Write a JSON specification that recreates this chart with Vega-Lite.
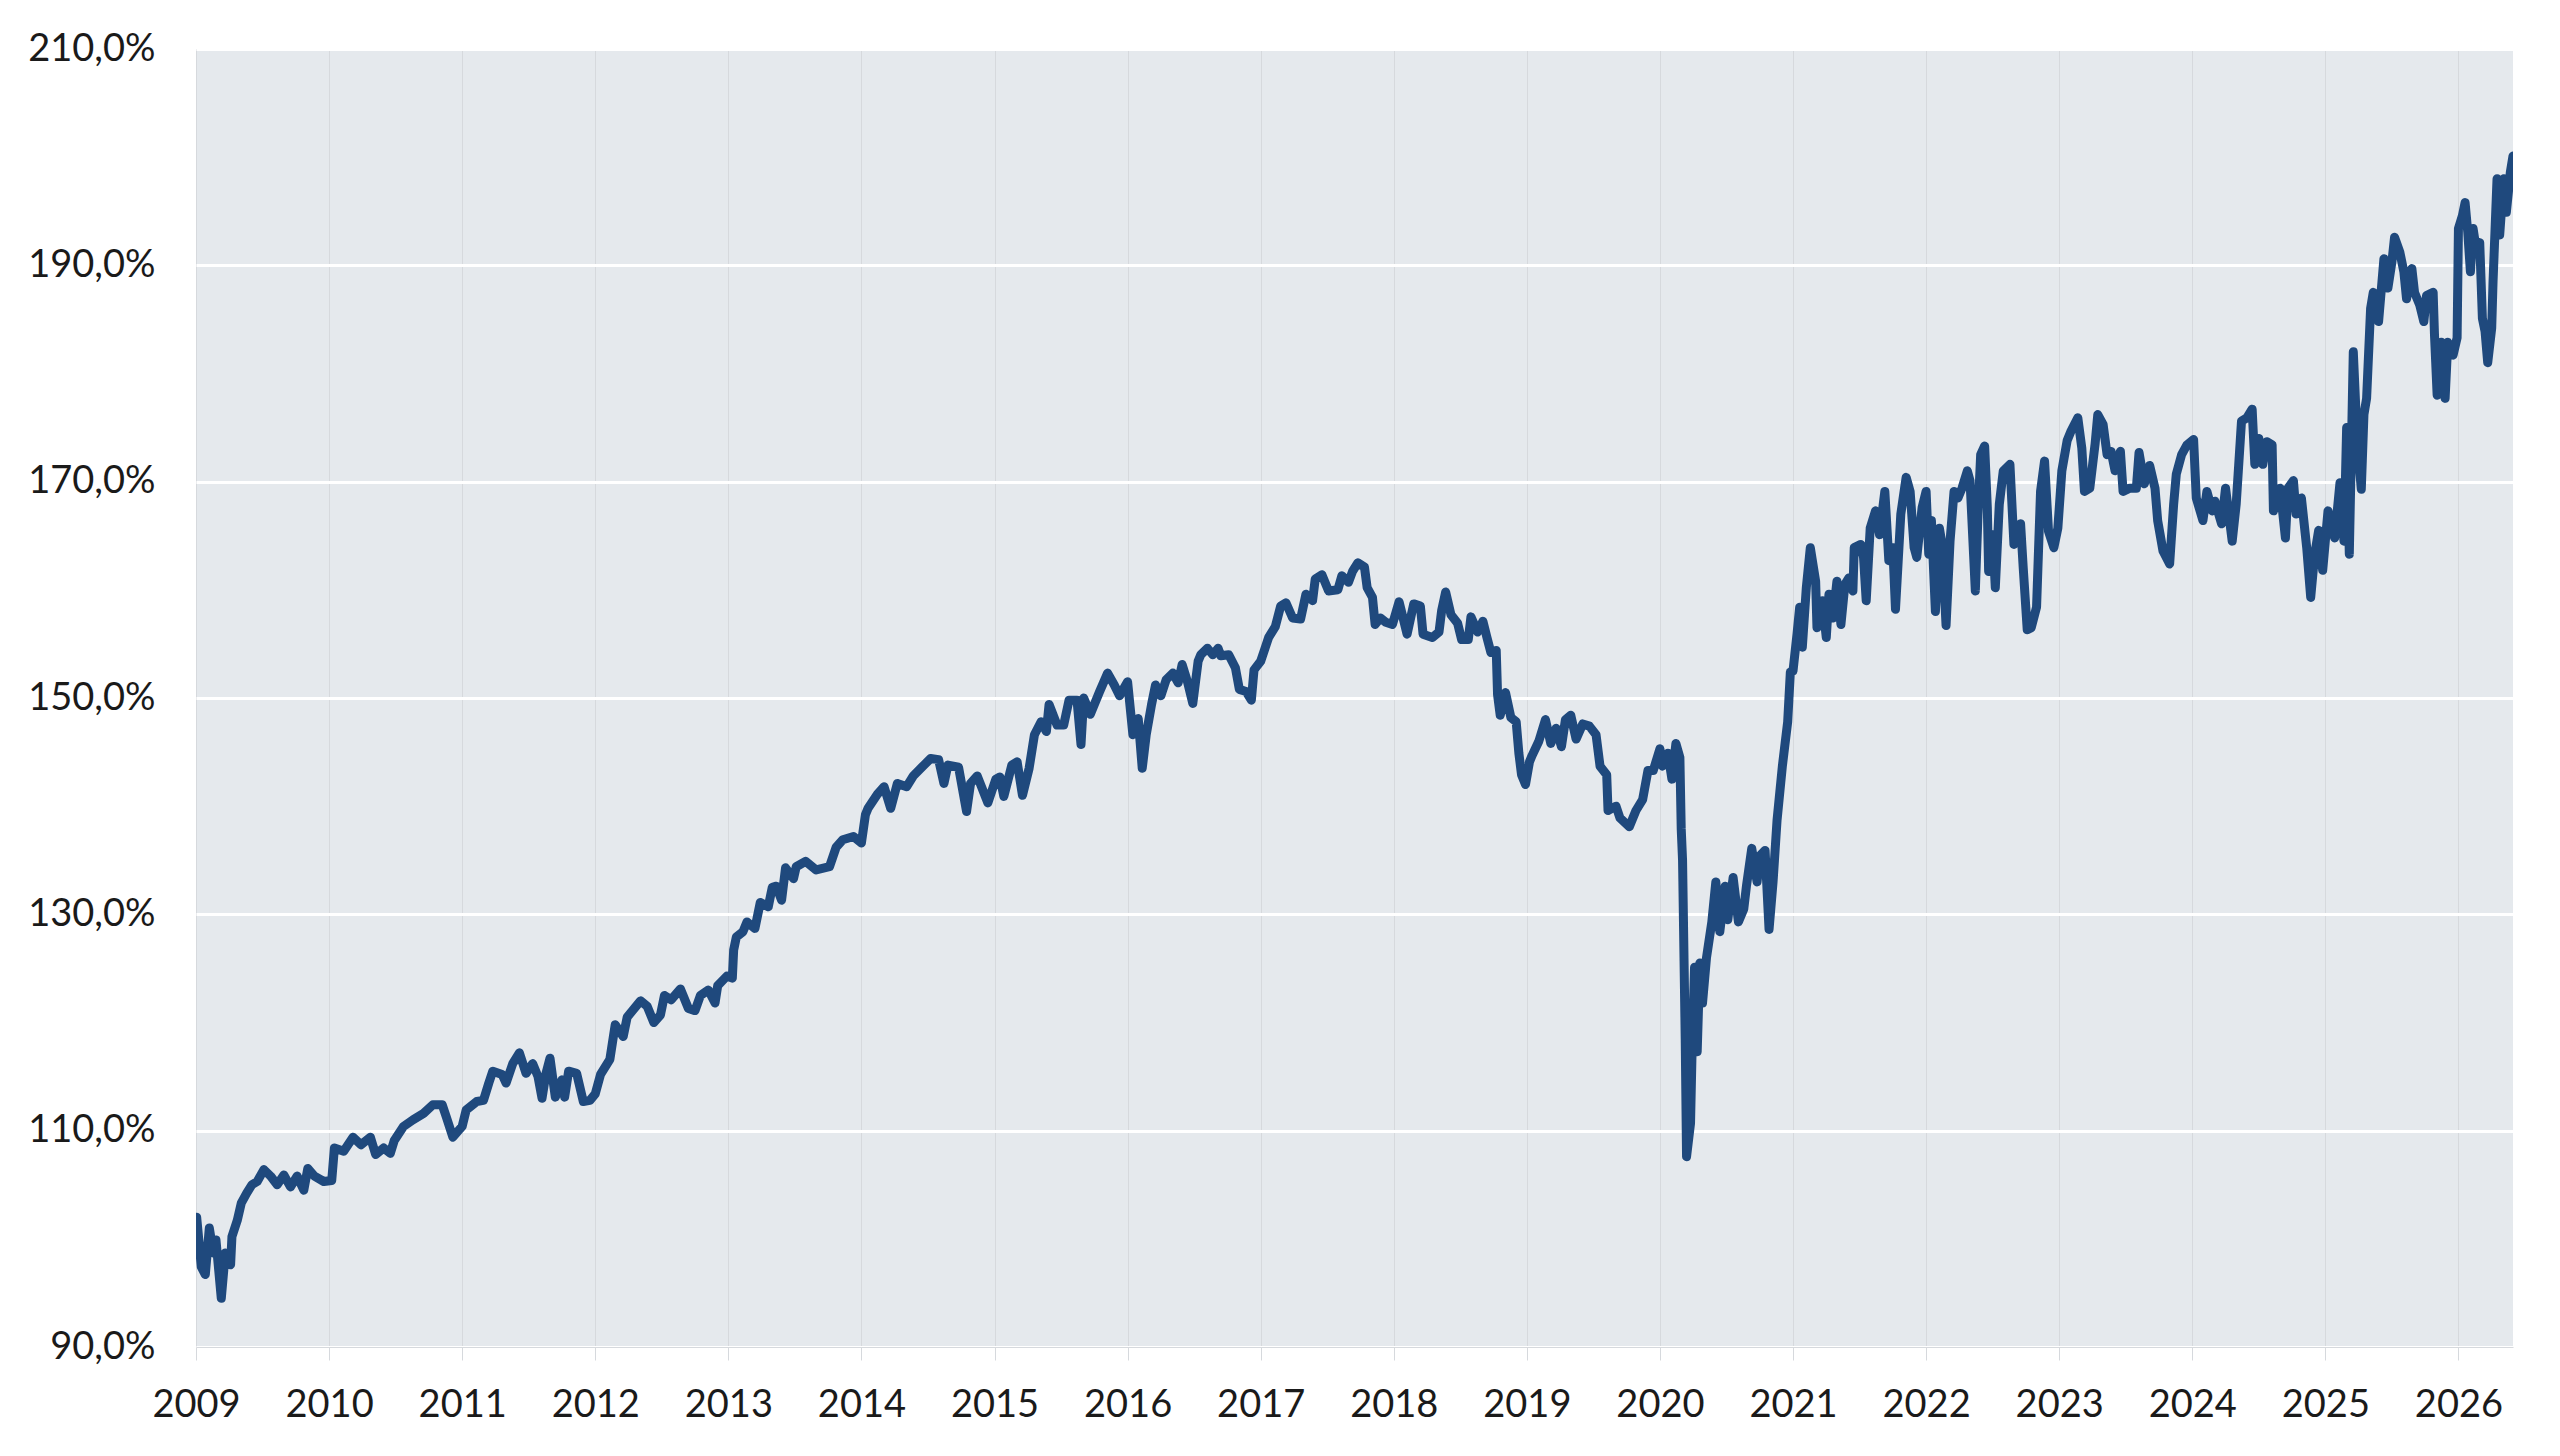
{
  "$schema": "https://vega.github.io/schema/vega-lite/v6.json",
  "width": 2317,
  "height": 1298,
  "autosize": {"type": "none"},
  "padding": {"left": 196, "top": 49, "right": 47, "bottom": 109},
  "background": "#ffffff",
  "config": {
    "view": {"fill": "#e5e9ed", "stroke": null},
    "font": "Lato"
  },
  "data": {
    "values": [
      {"t":2009.005,"v":102.0},{"t":2009.04,"v":97.4},{"t":2009.07,"v":96.7},{"t":2009.10,"v":101.0},{"t":2009.13,"v":98.7},{"t":2009.15,"v":99.9},{"t":2009.19,"v":94.5},{"t":2009.22,"v":98.7},{"t":2009.26,"v":97.6},{"t":2009.27,"v":100.2},{"t":2009.31,"v":101.7},{"t":2009.34,"v":103.3},{"t":2009.38,"v":104.2},{"t":2009.42,"v":105.0},{"t":2009.46,"v":105.3},{"t":2009.51,"v":106.4},{"t":2009.56,"v":105.8},{"t":2009.61,"v":105.0},{"t":2009.66,"v":105.9},{"t":2009.71,"v":104.8},{"t":2009.76,"v":105.8},{"t":2009.81,"v":104.5},{"t":2009.84,"v":106.5},{"t":2009.89,"v":105.8},{"t":2009.96,"v":105.3},
      {"t":2010.02,"v":105.4},{"t":2010.04,"v":108.4},{"t":2010.11,"v":108.1},{"t":2010.18,"v":109.4},{"t":2010.24,"v":108.7},{"t":2010.31,"v":109.4},{"t":2010.35,"v":107.8},{"t":2010.41,"v":108.4},{"t":2010.46,"v":107.9},{"t":2010.49,"v":109.1},{"t":2010.56,"v":110.4},{"t":2010.63,"v":111.0},{"t":2010.71,"v":111.6},{"t":2010.78,"v":112.4},{"t":2010.85,"v":112.4},{"t":2010.88,"v":111.3},{"t":2010.93,"v":109.4},
      {"t":2011.00,"v":110.4},{"t":2011.03,"v":111.9},{"t":2011.11,"v":112.7},{"t":2011.16,"v":112.8},{"t":2011.20,"v":114.4},{"t":2011.23,"v":115.5},{"t":2011.30,"v":115.2},{"t":2011.33,"v":114.4},{"t":2011.38,"v":116.2},{"t":2011.43,"v":117.2},{"t":2011.48,"v":115.3},{"t":2011.53,"v":116.2},{"t":2011.57,"v":115.0},{"t":2011.60,"v":113.0},{"t":2011.63,"v":115.3},{"t":2011.66,"v":116.7},{"t":2011.70,"v":113.1},{"t":2011.75,"v":114.7},{"t":2011.77,"v":113.1},{"t":2011.80,"v":115.5},{"t":2011.86,"v":115.3},{"t":2011.91,"v":112.7},{"t":2011.96,"v":112.8},
      {"t":2012.00,"v":113.4},{"t":2012.04,"v":115.2},{"t":2012.11,"v":116.6},{"t":2012.15,"v":119.8},{"t":2012.21,"v":118.7},{"t":2012.24,"v":120.5},{"t":2012.34,"v":122.0},{"t":2012.39,"v":121.5},{"t":2012.44,"v":120.0},{"t":2012.49,"v":120.7},{"t":2012.52,"v":122.5},{"t":2012.57,"v":122.1},{"t":2012.64,"v":123.1},{"t":2012.70,"v":121.3},{"t":2012.75,"v":121.1},{"t":2012.79,"v":122.5},{"t":2012.85,"v":123.0},{"t":2012.90,"v":121.8},{"t":2012.92,"v":123.4},{"t":2012.99,"v":124.3},
      {"t":2013.03,"v":124.1},{"t":2013.04,"v":126.7},{"t":2013.06,"v":127.9},{"t":2013.11,"v":128.4},{"t":2013.14,"v":129.3},{"t":2013.20,"v":128.7},{"t":2013.24,"v":131.1},{"t":2013.30,"v":130.7},{"t":2013.33,"v":132.5},{"t":2013.36,"v":132.6},{"t":2013.40,"v":131.3},{"t":2013.43,"v":134.3},{"t":2013.49,"v":133.3},{"t":2013.51,"v":134.4},{"t":2013.58,"v":134.9},{"t":2013.66,"v":134.1},{"t":2013.76,"v":134.4},{"t":2013.81,"v":136.2},{"t":2013.86,"v":136.9},{"t":2013.94,"v":137.2},
      {"t":2014.00,"v":136.6},{"t":2014.03,"v":139.2},{"t":2014.05,"v":139.8},{"t":2014.12,"v":141.1},{"t":2014.17,"v":141.8},{"t":2014.22,"v":139.8},{"t":2014.27,"v":142.1},{"t":2014.34,"v":141.8},{"t":2014.39,"v":142.8},{"t":2014.47,"v":143.8},{"t":2014.52,"v":144.4},{"t":2014.58,"v":144.3},{"t":2014.62,"v":142.1},{"t":2014.65,"v":143.8},{"t":2014.73,"v":143.6},{"t":2014.79,"v":139.5},{"t":2014.82,"v":142.1},{"t":2014.87,"v":142.8},{"t":2014.95,"v":140.3},{"t":2015.01,"v":142.5},
      {"t":2015.04,"v":142.7},{"t":2015.07,"v":140.9},{"t":2015.13,"v":143.8},{"t":2015.17,"v":144.1},{"t":2015.21,"v":141.0},{"t":2015.26,"v":143.5},{"t":2015.30,"v":146.6},{"t":2015.35,"v":147.8},{"t":2015.39,"v":146.9},{"t":2015.41,"v":149.4},{"t":2015.47,"v":147.5},{"t":2015.52,"v":147.5},{"t":2015.56,"v":149.8},{"t":2015.62,"v":149.8},{"t":2015.65,"v":145.7},{"t":2015.67,"v":150.0},{"t":2015.72,"v":148.5},{"t":2015.79,"v":150.6},{"t":2015.85,"v":152.3},{"t":2015.90,"v":151.2},{"t":2015.94,"v":150.2},
      {"t":2016.00,"v":151.5},{"t":2016.04,"v":146.6},{"t":2016.08,"v":148.1},{"t":2016.11,"v":143.5},{"t":2016.14,"v":146.6},{"t":2016.18,"v":149.4},{"t":2016.21,"v":151.2},{"t":2016.25,"v":150.2},{"t":2016.29,"v":151.7},{"t":2016.34,"v":152.3},{"t":2016.38,"v":151.4},{"t":2016.41,"v":153.1},{"t":2016.45,"v":151.5},{"t":2016.49,"v":149.5},{"t":2016.53,"v":153.4},{"t":2016.55,"v":154.0},{"t":2016.60,"v":154.6},{"t":2016.64,"v":154.0},{"t":2016.68,"v":154.6},{"t":2016.70,"v":153.9},{"t":2016.76,"v":154.0},{"t":2016.81,"v":152.8},{"t":2016.84,"v":150.8},{"t":2016.89,"v":150.6},{"t":2016.93,"v":149.8},{"t":2016.95,"v":152.6},
      {"t":2017.00,"v":153.4},{"t":2017.03,"v":154.5},{"t":2017.06,"v":155.6},{"t":2017.11,"v":156.6},{"t":2017.15,"v":158.5},{"t":2017.19,"v":158.8},{"t":2017.24,"v":157.4},{"t":2017.30,"v":157.3},{"t":2017.34,"v":159.6},{"t":2017.39,"v":159.0},{"t":2017.41,"v":161.0},{"t":2017.46,"v":161.4},{"t":2017.51,"v":159.9},{"t":2017.58,"v":160.0},{"t":2017.61,"v":161.3},{"t":2017.66,"v":160.7},{"t":2017.69,"v":161.7},{"t":2017.73,"v":162.5},{"t":2017.78,"v":162.1},{"t":2017.80,"v":160.2},{"t":2017.84,"v":159.3},{"t":2017.86,"v":156.8},{"t":2017.90,"v":157.4},{"t":2017.94,"v":157.0},{"t":2017.99,"v":156.8},
      {"t":2018.04,"v":158.9},{"t":2018.10,"v":155.9},{"t":2018.15,"v":158.7},{"t":2018.20,"v":158.5},{"t":2018.22,"v":155.9},{"t":2018.29,"v":155.6},{"t":2018.34,"v":156.1},{"t":2018.36,"v":158.1},{"t":2018.39,"v":159.8},{"t":2018.43,"v":157.7},{"t":2018.48,"v":156.9},{"t":2018.51,"v":155.4},{"t":2018.56,"v":155.4},{"t":2018.58,"v":157.5},{"t":2018.63,"v":156.1},{"t":2018.67,"v":157.1},{"t":2018.70,"v":155.6},{"t":2018.73,"v":154.2},{"t":2018.77,"v":154.4},{"t":2018.78,"v":150.3},{"t":2018.80,"v":148.4},{"t":2018.84,"v":150.5},{"t":2018.88,"v":148.2},{"t":2018.92,"v":147.8},{"t":2018.94,"v":144.9},{"t":2018.96,"v":142.9},{"t":2018.99,"v":142.0},
      {"t":2019.02,"v":144.1},{"t":2019.04,"v":144.7},{"t":2019.09,"v":146.0},{"t":2019.14,"v":148.0},{"t":2019.18,"v":145.8},{"t":2019.22,"v":147.2},{"t":2019.26,"v":145.5},{"t":2019.29,"v":148.0},{"t":2019.33,"v":148.4},{"t":2019.37,"v":146.2},{"t":2019.42,"v":147.6},{"t":2019.47,"v":147.4},{"t":2019.52,"v":146.6},{"t":2019.55,"v":143.7},{"t":2019.60,"v":142.9},{"t":2019.61,"v":139.6},{"t":2019.67,"v":140.0},{"t":2019.70,"v":138.9},{"t":2019.77,"v":138.1},{"t":2019.82,"v":139.6},{"t":2019.87,"v":140.6},{"t":2019.91,"v":143.3},{"t":2019.95,"v":143.3},
      {"t":2020.00,"v":145.3},{"t":2020.02,"v":143.7},{"t":2020.06,"v":144.9},{"t":2020.09,"v":142.5},{"t":2020.12,"v":145.8},{"t":2020.15,"v":144.5},{"t":2020.16,"v":137.9},{"t":2020.17,"v":135.0},{"t":2020.19,"v":118.5},{"t":2020.20,"v":107.6},{"t":2020.23,"v":110.7},{"t":2020.24,"v":116.5},{"t":2020.26,"v":125.1},{"t":2020.28,"v":117.3},{"t":2020.30,"v":125.5},{"t":2020.32,"v":121.8},{"t":2020.35,"v":126.0},{"t":2020.39,"v":129.3},{"t":2020.42,"v":133.0},{"t":2020.45,"v":128.4},{"t":2020.49,"v":132.6},{"t":2020.51,"v":129.5},{"t":2020.55,"v":133.4},{"t":2020.59,"v":129.3},{"t":2020.63,"v":130.5},{"t":2020.65,"v":132.6},{"t":2020.69,"v":136.1},{"t":2020.73,"v":133.0},{"t":2020.75,"v":135.4},{"t":2020.79,"v":135.9},{"t":2020.82,"v":128.6},{"t":2020.85,"v":133.0},{"t":2020.88,"v":138.7},{"t":2020.92,"v":143.7},{"t":2020.96,"v":147.8},{"t":2020.98,"v":152.4},
      {"t":2021.00,"v":152.5},{"t":2021.03,"v":155.9},{"t":2021.05,"v":158.4},{"t":2021.07,"v":154.7},{"t":2021.10,"v":160.2},{"t":2021.13,"v":163.9},{"t":2021.17,"v":160.8},{"t":2021.18,"v":156.5},{"t":2021.22,"v":159.0},{"t":2021.25,"v":155.6},{"t":2021.27,"v":159.6},{"t":2021.30,"v":157.4},{"t":2021.33,"v":160.8},{"t":2021.36,"v":156.8},{"t":2021.39,"v":160.5},{"t":2021.42,"v":161.1},{"t":2021.45,"v":159.9},{"t":2021.46,"v":163.9},{"t":2021.51,"v":164.2},{"t":2021.53,"v":163.0},{"t":2021.55,"v":159.0},{"t":2021.58,"v":165.7},{"t":2021.62,"v":167.3},{"t":2021.65,"v":165.1},{"t":2021.69,"v":169.1},{"t":2021.72,"v":162.7},{"t":2021.75,"v":163.9},{"t":2021.77,"v":158.2},{"t":2021.81,"v":167.0},{"t":2021.85,"v":170.4},{"t":2021.88,"v":169.1},{"t":2021.91,"v":163.9},{"t":2021.93,"v":163.0},{"t":2021.97,"v":167.6},
      {"t":2022.00,"v":169.1},{"t":2022.02,"v":163.3},{"t":2022.04,"v":166.4},{"t":2022.07,"v":158.0},{"t":2022.10,"v":165.7},{"t":2022.12,"v":164.2},{"t":2022.15,"v":156.7},{"t":2022.18,"v":164.5},{"t":2022.21,"v":169.1},{"t":2022.24,"v":168.5},{"t":2022.27,"v":169.4},{"t":2022.31,"v":171.0},{"t":2022.33,"v":170.1},{"t":2022.37,"v":159.9},{"t":2022.39,"v":167.0},{"t":2022.41,"v":172.5},{"t":2022.44,"v":173.3},{"t":2022.46,"v":167.6},{"t":2022.47,"v":161.7},{"t":2022.50,"v":165.1},{"t":2022.52,"v":160.2},{"t":2022.55,"v":167.9},{"t":2022.58,"v":171.0},{"t":2022.63,"v":171.6},{"t":2022.66,"v":164.2},{"t":2022.71,"v":166.1},{"t":2022.73,"v":162.0},{"t":2022.76,"v":156.3},{"t":2022.79,"v":156.5},{"t":2022.83,"v":158.4},{"t":2022.86,"v":169.1},{"t":2022.89,"v":171.9},{"t":2022.92,"v":165.4},{"t":2022.96,"v":163.9},{"t":2022.99,"v":165.7},
      {"t":2023.02,"v":171.0},{"t":2023.06,"v":173.8},{"t":2023.09,"v":174.7},{"t":2023.14,"v":175.9},{"t":2023.17,"v":173.1},{"t":2023.19,"v":169.1},{"t":2023.23,"v":169.4},{"t":2023.27,"v":173.5},{"t":2023.29,"v":176.2},{"t":2023.33,"v":175.3},{"t":2023.36,"v":172.5},{"t":2023.39,"v":172.8},{"t":2023.42,"v":171.0},{"t":2023.46,"v":172.8},{"t":2023.48,"v":169.1},{"t":2023.53,"v":169.4},{"t":2023.58,"v":169.4},{"t":2023.60,"v":172.7},{"t":2023.64,"v":169.8},{"t":2023.68,"v":171.5},{"t":2023.72,"v":169.4},{"t":2023.74,"v":166.4},{"t":2023.78,"v":163.6},{"t":2023.83,"v":162.4},{"t":2023.86,"v":167.9},{"t":2023.88,"v":170.7},{"t":2023.92,"v":172.5},{"t":2023.96,"v":173.4},
      {"t":2024.01,"v":173.9},{"t":2024.03,"v":168.5},{"t":2024.08,"v":166.4},{"t":2024.11,"v":169.1},{"t":2024.15,"v":167.3},{"t":2024.17,"v":168.2},{"t":2024.22,"v":166.1},{"t":2024.25,"v":169.4},{"t":2024.30,"v":164.5},{"t":2024.33,"v":167.9},{"t":2024.37,"v":175.6},{"t":2024.41,"v":175.9},{"t":2024.45,"v":176.7},{"t":2024.47,"v":171.6},{"t":2024.50,"v":174.0},{"t":2024.53,"v":171.6},{"t":2024.56,"v":173.7},{"t":2024.60,"v":173.4},{"t":2024.61,"v":167.3},{"t":2024.66,"v":169.4},{"t":2024.70,"v":164.8},{"t":2024.72,"v":169.4},{"t":2024.76,"v":170.1},{"t":2024.78,"v":167.0},{"t":2024.82,"v":168.5},{"t":2024.86,"v":163.9},{"t":2024.89,"v":159.3},{"t":2024.92,"v":163.3},{"t":2024.95,"v":165.5},{"t":2024.98,"v":161.8},
      {"t":2025.02,"v":167.3},{"t":2025.07,"v":164.8},{"t":2025.11,"v":169.9},{"t":2025.14,"v":164.5},{"t":2025.16,"v":175.0},{"t":2025.18,"v":163.3},{"t":2025.21,"v":182.0},{"t":2025.24,"v":173.7},{"t":2025.27,"v":169.3},{"t":2025.29,"v":176.2},{"t":2025.31,"v":177.7},{"t":2025.34,"v":186.0},{"t":2025.36,"v":187.5},{"t":2025.40,"v":184.8},{"t":2025.44,"v":190.6},{"t":2025.47,"v":187.9},{"t":2025.50,"v":190.3},{"t":2025.52,"v":192.6},{"t":2025.56,"v":191.2},{"t":2025.59,"v":189.4},{"t":2025.61,"v":186.9},{"t":2025.65,"v":189.7},{"t":2025.67,"v":187.5},{"t":2025.71,"v":186.3},{"t":2025.74,"v":184.8},{"t":2025.76,"v":187.2},{"t":2025.81,"v":187.5},{"t":2025.82,"v":183.6},{"t":2025.84,"v":178.0},{"t":2025.87,"v":182.9},{"t":2025.90,"v":177.7},{"t":2025.92,"v":182.9},{"t":2025.96,"v":181.7},{"t":2025.99,"v":183.3},
      {"t":2026.00,"v":193.4},{"t":2026.03,"v":194.6},{"t":2026.05,"v":195.8},{"t":2026.07,"v":193.1},{"t":2026.09,"v":189.4},{"t":2026.11,"v":193.4},{"t":2026.13,"v":191.8},{"t":2026.16,"v":192.1},{"t":2026.18,"v":185.1},{"t":2026.20,"v":183.9},{"t":2026.22,"v":181.0},{"t":2026.25,"v":184.2},{"t":2026.26,"v":188.5},{"t":2026.29,"v":198.0},{"t":2026.31,"v":192.8},{"t":2026.34,"v":198.0},{"t":2026.36,"v":194.9},{"t":2026.39,"v":198.6},{"t":2026.41,"v":200.1}
    ]
  },
  "mark": {"type": "line", "color": "#1f497d", "strokeWidth": 9, "strokeJoin": "round", "strokeCap": "round", "clip": true},
  "encoding": {
    "x": {
      "field": "t",
      "type": "quantitative",
      "title": null,
      "scale": {"domain": [2009, 2026.41], "nice": false, "zero": false},
      "axis": {
        "values": [2009,2010,2011,2012,2013,2014,2015,2016,2017,2018,2019,2020,2021,2022,2023,2024,2025,2026],
        "format": "d",
        "labelFont": "Lato",
        "labelFontSize": 38,
        "labelColor": "#1a1a1a",
        "labelPadding": 26,
        "labelFlush": false,
        "labelOverlap": false,
        "ticks": true,
        "tickSize": 13,
        "tickColor": "#d6d9dd",
        "tickWidth": 1,
        "domain": true,
        "domainColor": "#d6d9dd",
        "domainWidth": 1,
        "grid": true,
        "gridColor": "#d6d9dd",
        "gridWidth": 1
      }
    },
    "y": {
      "field": "v",
      "type": "quantitative",
      "title": null,
      "scale": {"domain": [90, 210], "nice": false, "zero": false},
      "axis": {
        "values": [90,110,130,150,170,190,210],
        "labelExpr": "replace(format(datum.value, '.1f'), '.', ',') + '%'",
        "labelFont": "Lato",
        "labelFontSize": 38,
        "labelColor": "#1a1a1a",
        "labelPadding": 41,
        "ticks": false,
        "domain": false,
        "grid": true,
        "gridColor": "#ffffff",
        "gridWidth": 3
      }
    }
  }
}
